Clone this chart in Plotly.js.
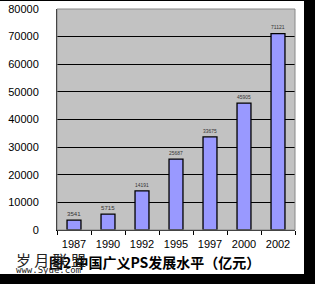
<!DOCTYPE html>
<html><head><meta charset="utf-8">
<script src="https://cdn.plot.ly/plotly-3.0.1.min.js"></script>
<style>
html,body{margin:0;padding:0;background:#000;}
#c{position:absolute;left:0;top:1px;width:304px;height:273px;background:#fff;}
</style></head><body>
<div id="c"></div>
<script>
const years = ['1987','1990','1992','1995','1997','2000','2002'];
const values = [3541, 5715, 14191, 25687, 33675, 45905, 71121];
const valueLabels = ['3541','5715','14191','25687','33675','45905','71121'];
const yTicks = [0,10000,20000,30000,40000,50000,60000,70000,80000];
const chartTitle = '图2 中国广义PS发展水平（亿元）';

const trace = {
  type:'bar', x:years, y:values, width:0.41,
  marker:{color:'#9999ff', line:{color:'#000', width:1.3}},
  text:valueLabels, textposition:'outside', cliponaxis:false,
  textfont:{family:'Arial, Liberation Sans', size:8, color:'#333'},
  hoverinfo:'none'
};
const layout = {
  width:304, height:273, margin:{l:57, r:9, t:8, b:44},
  paper_bgcolor:'#fff', plot_bgcolor:'#c2c2c2', showlegend:false,
  xaxis:{type:'category', tickson:'boundaries', ticks:'outside', ticklen:4, tickcolor:'#000',
    showline:true, linecolor:'#000', linewidth:1, showgrid:false, ticklabelstandoff:4,
    tickfont:{family:'Arial, Liberation Sans', size:11, color:'#000'}},
  yaxis:{range:[0,80000], tickvals:yTicks, ticktext:yTicks.map(String), ticks:'',
    showgrid:true, gridcolor:'#000', gridwidth:1, zeroline:true, zerolinecolor:'#000',
    showline:true, linecolor:'#000', linewidth:1, ticklabelstandoff:15,
    tickfont:{family:'Arial, Liberation Sans', size:11, color:'#000'}},
  shapes:[{type:'rect', xref:'paper', yref:'paper', x0:0, x1:1, y0:0, y1:1, line:{color:'#888', width:1}}],
  annotations:[
    {text:'<b>'+chartTitle+'</b>', xref:'paper', yref:'paper', x:0.41, y:-0.145, xanchor:'center', yanchor:'middle', showarrow:false,
     font:{family:'Noto Sans CJK SC', size:14, color:'#000'}},
    {text:'岁 月 联 盟', xref:'paper', yref:'paper', x:-0.18, y:-0.135, xanchor:'left', yanchor:'middle', showarrow:false,
     font:{family:'Noto Sans CJK SC', size:15, color:'#222'}},
    {text:'www.Syue.com', xref:'paper', yref:'paper', x:-0.18, y:-0.18, xanchor:'left', yanchor:'middle', showarrow:false,
     font:{family:'DejaVu Sans Mono', size:9, color:'#222'}}
  ]
};
Plotly.newPlot('c',[trace],layout,{displayModeBar:false, staticPlot:true});
</script></body></html>
